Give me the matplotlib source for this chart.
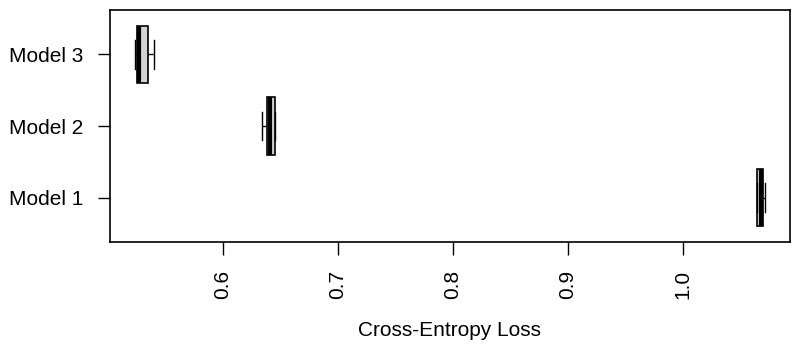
import matplotlib
matplotlib.use("Agg")
import matplotlib.pyplot as plt

plt.rcParams['font.family'] = ['Liberation Sans', 'DejaVu Sans']

# boxplot summaries
models = ["Model 1", "Model 2", "Model 3"]
whislo = [1.0646, 0.6347, 0.5240]
q1 = [1.0648, 0.6383, 0.5258]
med = [1.0680, 0.6415, 0.5277]
q3 = [1.0700, 0.6456, 0.5350]
whishi = [1.0715, 0.6460, 0.5405]

xticks = [0.6, 0.7, 0.8, 0.9, 1.0]
xtick_labels = ["0.6", "0.7", "0.8", "0.9", "1.0"]

stats = []
for i in range(len(models)):
    stats.append(dict(label=models[i], whislo=whislo[i], q1=q1[i], med=med[i],
                      q3=q3[i], whishi=whishi[i], fliers=[]))

fig = plt.figure(figsize=(7.98, 3.52), dpi=100)
ax = fig.add_axes([110/798, 1-242/352, 680/798, 232/352])

ax.bxp(stats, positions=[1, 2, 3], vert=False, widths=0.8, patch_artist=True,
       showfliers=False,
       boxprops=dict(facecolor="#d3d3d3", edgecolor="black", linewidth=1.2),
       medianprops=dict(color="black", linewidth=3),
       whiskerprops=dict(color="black", linewidth=1, linestyle="--"),
       capprops=dict(color="black", linewidth=1),
       capwidths=0.4)

ax.set_xlim(0.5021, 1.0934)
ax.set_ylim(0.38, 3.62)
ax.set_xticks(xticks)
ax.set_xticklabels(xtick_labels, rotation=90, fontsize=15)
ax.set_yticks([1, 2, 3])
ax.set_yticklabels(models, fontsize=15)
ax.tick_params(axis='x', length=9, width=1, pad=11)
ax.tick_params(axis='y', length=9, width=1, pad=10)
for s in ax.spines.values():
    s.set_linewidth(1.2)
ax.set_xlabel("Cross-Entropy Loss", fontsize=15, labelpad=16)

fig.savefig("out.png", dpi=100)
